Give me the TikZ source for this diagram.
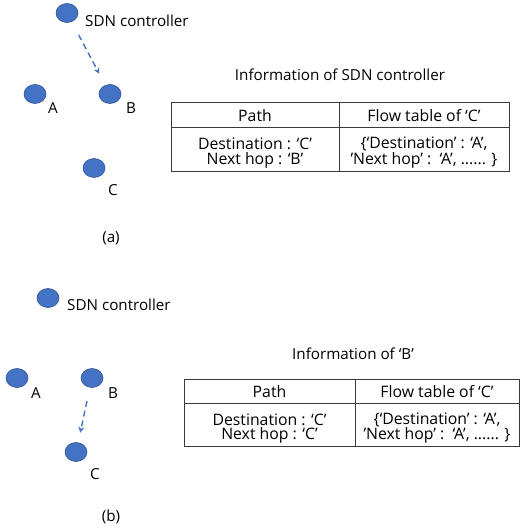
\documentclass[tikz,border=0pt]{standalone}
\usepackage{fontspec}
\setmainfont{Open Sans}
\usetikzlibrary{arrows.meta,shapes.geometric,calc}
\definecolor{nodeblue}{HTML}{4472C4}
\definecolor{nodeedge}{HTML}{2F528F}
\definecolor{tableline}{HTML}{3A3A3A}
\begin{document}
\begin{tikzpicture}[x=1pt,y=-1pt,
  dot/.style={ellipse,fill=nodeblue,draw=nodeedge,line width=0.6pt,minimum width=22pt,minimum height=19pt,inner sep=0pt},
  lbl/.style={font=\fontsize{15.2}{17}\selectfont,inner sep=0pt,text=black},
  cell/.style={font=\fontsize{15.8}{17}\selectfont,inner sep=0pt,text=black},
  flow/.style={draw=nodeblue,line width=1.4pt,dash pattern=on 6pt off 4pt,-{Stealth[length=6pt,width=6pt]}},
  tbl/.style={draw=tableline,line width=1pt}]
\useasboundingbox (0,0) rectangle (522,529);

% ---------- (a) ----------
\node[dot] (ctrlA) at (67,13) {};
\node[dot] (Aa) at (35,94) {};
\node[dot] (Ba) at (110,94) {};
\node[dot] (Ca) at (94,168) {};
\node[lbl,anchor=west] (ctrlAl) at (85,21) {SDN controller};
\node[lbl] (Aal) at (53,108) {A};
\node[lbl] (Bal) at (131,108) {B};
\node[lbl] (Cal) at (113,190) {C};
\node[lbl] (capa) at (111,238) {(a)};
\draw[flow] ($(ctrlA)!0.27!(Ba)$) -- ($(ctrlA)!0.75!(Ba)$);

\node[lbl] (headA) at (340,75) {Information of SDN controller};
\draw[tbl] (171,103) rectangle (509,172);
\draw[tbl] (171,128) -- (509,128);
\draw[tbl] (339,103) -- (339,172);
\node[cell] (pathA) at (255,116) {Path};
\node[cell] (flowA) at (424,116) {Flow table of ‘C’};
\node[cell] (destA) at (255,144) {Destination : ‘C’};
\node[cell] (nextA) at (255,160) {Next hop : ‘B’};
\node[cell] (fdA) at (424,144) {\{‘Destination’ : ‘A’,};
\node[cell] (fnA) at (424,160) {’Next hop’ :\ \ ‘A’, ...... \}};

% ---------- (b) ----------
\node[dot] (ctrlB) at (48,298) {};
\node[dot] (Ab) at (17,378) {};
\node[dot] (Bb) at (92,378) {};
\node[dot] (Cb) at (76,452) {};
\node[lbl,anchor=west] (ctrlBl) at (67,305) {SDN controller};
\node[lbl] (Abl) at (36,393) {A};
\node[lbl] (Bbl) at (113,393) {B};
\node[lbl] (Cbl) at (95,474) {C};
\node[lbl] (capb) at (111,517) {(b)};
\draw[flow] ($(Bb)!0.31!(Cb)$) -- ($(Bb)!0.74!(Cb)$);

\node[lbl] (headB) at (353,354) {Information of ‘B’};
\draw[tbl] (184,379) rectangle (519,446.5);
\draw[tbl] (184,403) -- (519,403);
\draw[tbl] (355,379) -- (355,446.5);
\node[cell] (pathB) at (269.5,391.5) {Path};
\node[cell] (flowB) at (437,391.5) {Flow table of ‘C’};
\node[cell] (destB) at (269.5,419.5) {Destination : ‘C’};
\node[cell] (nextB) at (269.5,435.5) {Next hop : ‘C’};
\node[cell] (fdB) at (437,419.5) {\{‘Destination’ : ‘A’,};
\node[cell] (fnB) at (437,435.5) {’Next hop’ :\ \ ‘A’, ...... \}};
\end{tikzpicture}
\end{document}
